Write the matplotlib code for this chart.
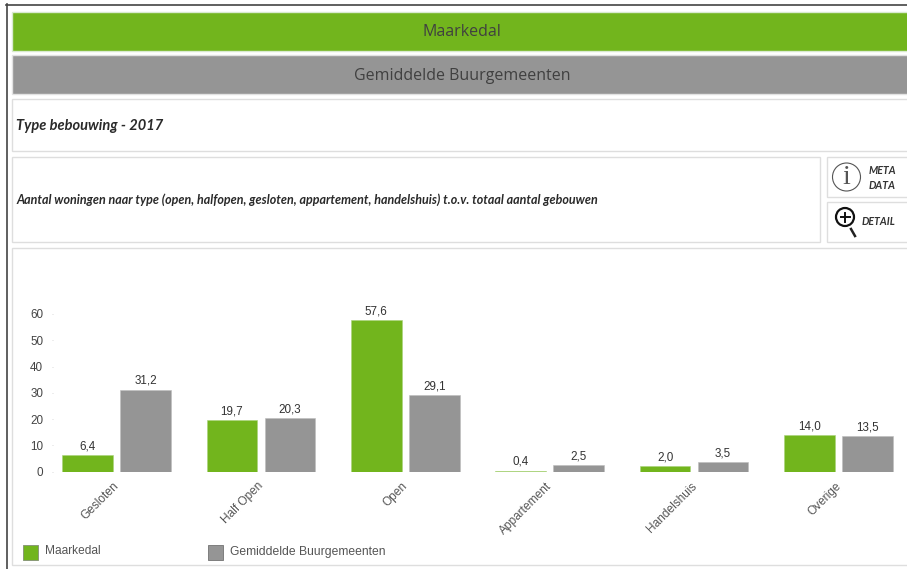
import matplotlib
matplotlib.use("Agg")
import matplotlib.pyplot as plt
from matplotlib.patches import Circle, Rectangle
from matplotlib.transforms import ScaledTranslation

W, H = 907, 569
GREEN = "#72b51d"
GRAY = "#959595"
EDGE = "#dedede"
DARK = "#404040"

categories = ["Gesloten", "Half Open", "Open", "Appartement", "Handelshuis", "Overige"]
maarkedal = [6.4, 19.7, 57.6, 0.4, 2.0, 14.0]
buurgemeenten = [31.2, 20.3, 29.1, 2.5, 3.5, 13.5]
value_labels_m = ["6,4", "19,7", "57,6", "0,4", "2,0", "14,0"]
value_labels_b = ["31,2", "20,3", "29,1", "2,5", "3,5", "13,5"]
yticks = [0, 10, 20, 30, 40, 50, 60]

SANS = ["Liberation Sans", "DejaVu Sans"]
HEAD = ["Open Sans", "DejaVu Sans"]
NOTE = ["Lato", "DejaVu Sans"]

fig = plt.figure(figsize=(W / 100, H / 100), dpi=100, facecolor="white")

# page layer in pixel coordinates, y downwards
page = fig.add_axes([0, 0, 1, 1])
page.set_xlim(0, W)
page.set_ylim(H, 0)
page.axis("off")


def panel(x0, y0, x1, y1, face="white", edge=EDGE):
    page.add_patch(Rectangle((x0, y0), x1 - x0, y1 - y0, fc=face, ec=edge, lw=1.0))


page.plot([6.5, 6.5], [4, H], color="#444444", lw=1.2)
page.plot([6, W], [4.5, 4.5], color="#444444", lw=1.2)

panel(12, 12, 910, 50.5, GREEN, "#d9ead0")
panel(12, 55, 910, 93.5, GRAY, "#e2e2e2")
panel(12, 99, 910, 151)
panel(12, 157, 820, 242)
panel(827, 157, 910, 197)
panel(827, 202, 910, 242)
panel(12, 248, 910, 565)

page.text(462, 31.5, "Maarkedal", ha="center", va="center", fontsize=11.5,
          color=DARK, family=HEAD)
page.text(462, 75.5, "Gemiddelde Buurgemeenten", ha="center", va="center",
          fontsize=11.5, color=DARK, family=HEAD)
page.text(16, 125.5, "Type bebouwing - 2017", ha="left", va="center", fontsize=10.5,
          fontweight="bold", style="italic", color="#2a2a2a", family=NOTE)
page.text(16, 199.5,
          "Aantal woningen naar type (open, halfopen, gesloten, appartement, "
          "handelshuis) t.o.v. totaal aantal gebouwen",
          ha="left", va="center", fontsize=9.0, fontweight="bold", style="italic",
          color="#2a2a2a", family=NOTE)

# buttons
page.add_patch(Circle((846.5, 177), 14, fc="white", ec="#555555", lw=0.8))
page.text(846.5, 177, "i", ha="center", va="center", fontsize=20, color="#555555",
          family=["Liberation Serif", "DejaVu Serif"])
page.text(882.5, 170.5, "META", ha="center", va="center", fontsize=7.6, fontweight="bold",
          style="italic", color="#333333", family=NOTE)
page.text(882.5, 185, "DATA", ha="center", va="center", fontsize=7.6, fontweight="bold",
          style="italic", color="#333333", family=NOTE)
page.add_patch(Circle((845, 217), 9, fc="white", ec="#111111", lw=1.6))
page.plot([840.5, 849.5], [217, 217], color="#111111", lw=1.4)
page.plot([845, 845], [212.5, 221.5], color="#111111", lw=1.4)
page.plot([851, 855], [229, 236], color="#222222", lw=1.8)
page.text(879, 221, "DETAIL", ha="center", va="center", fontsize=7.6, fontweight="bold",
          style="italic", color="#333333", family=NOTE)

# chart, axes placed so that one category spans 144.4 px
ax_left, ax_right, ax_base, ax_top = 52.5, 907, 471.7, 300
first_center = 116.5
step = 144.4
ax = fig.add_axes([ax_left / W, 1 - ax_base / H, (ax_right - ax_left) / W,
                   (ax_base - ax_top) / H])
ax.patch.set_alpha(0)
ax.set_xlim((ax_left - first_center) / step, (ax_right - first_center) / step)
ax.set_ylim(0, (ax_base - ax_top) / 2.63)

xs = list(range(len(categories)))
bar_w = 50.5 / step
offset = 29 / step
ax.bar([x - offset for x in xs], maarkedal, bar_w, color=GREEN, ec="#a9d27a", lw=0.4)
ax.bar([x + offset for x in xs], buurgemeenten, bar_w, color=GRAY, ec="#bdbdbd", lw=0.4)

for x, v, m_txt in zip(xs, maarkedal, value_labels_m):
    ax.annotate(m_txt, (x - offset, v), xytext=(0, 2), textcoords="offset points",
                ha="center", va="bottom", fontsize=8.4, color="#333333", family=SANS)
for x, v, b_txt in zip(xs, buurgemeenten, value_labels_b):
    ax.annotate(b_txt, (x + offset, v), xytext=(0, 2), textcoords="offset points",
                ha="center", va="bottom", fontsize=8.4, color="#333333", family=SANS)

for side in ("top", "right", "left", "bottom"):
    ax.spines[side].set_visible(False)
ax.set_yticks(yticks)
ax.set_yticklabels([str(t) for t in yticks], fontsize=8.4, color="#444444", family=SANS)
ax.tick_params(axis="y", length=1, width=0.5, color="#cccccc", pad=5.8)
ax.set_xticks(xs)
ax.set_xticklabels(categories, rotation=45, ha="right", rotation_mode="anchor",
                   fontsize=8.6, color="#555555", family=SANS)
ax.tick_params(axis="x", length=0, pad=6)
nudge = ScaledTranslation(-3.5 / 100, 0, fig.dpi_scale_trans)
for lab in ax.get_xticklabels():
    lab.set_transform(lab.get_transform() + nudge)

# legend
page.add_patch(Rectangle((22.5, 544.5), 15, 15, fc=GREEN, ec="#8a9a78", lw=0.7))
page.add_patch(Rectangle((207.5, 544.5), 15, 15, fc=GRAY, ec="#7e7e7e", lw=0.7))
page.text(45.5, 551.5, "Maarkedal", ha="left", va="center", fontsize=8.6,
          color="#555555", family=SANS)
page.text(230.5, 551.5, "Gemiddelde Buurgemeenten", ha="left", va="center", fontsize=8.7,
          color="#555555", family=SANS)

fig.savefig("out.png", dpi=100)
